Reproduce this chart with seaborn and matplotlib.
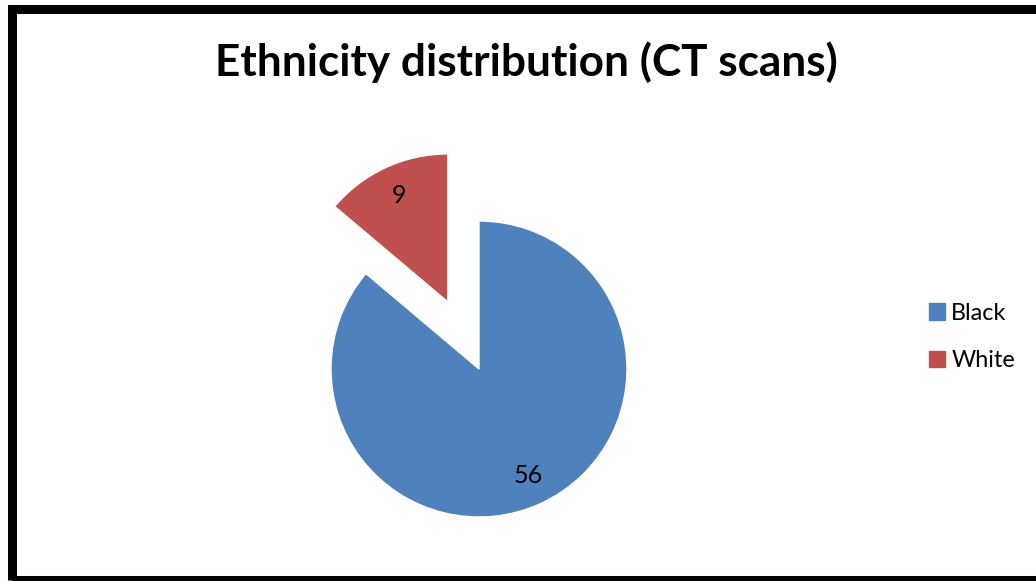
import matplotlib.pyplot as plt
import matplotlib.patches as mpatches
import seaborn as sns

# Data
groups = ["Black", "White"]
counts = [56, 9]
colors = ["#4F81BD", "#C0504D"]
explode = [0, 0.5]

sns.set_theme(style="white")
plt.rcParams['font.family'] = ['Lato', 'DejaVu Sans']
plt.rcParams['text.color'] = 'black'

W, H = 1036, 581
fig = plt.figure(figsize=(W / 100, H / 100), dpi=100)
ax = fig.add_axes([0, 0, 1, 1])

wedges, texts = ax.pie(counts, colors=colors, explode=explode, startangle=90,
                       counterclock=False, labels=[str(c) for c in counts],
                       labeldistance=0.79,
                       textprops={'fontsize': 18, 'color': 'black',
                                  'ha': 'center', 'va': 'center'})

# pie centre at pixel (479, 369), radius 148 px
r = 148
cx, cy = 479, H - 369
ax.set_xlim(-cx / r, (W - cx) / r)
ax.set_ylim(-cy / r, (H - cy) / r)
ax.set_aspect('equal')
ax.axis('off')

fig.text(526 / W, 1 - 62 / H, "Ethnicity distribution (CT scans)",
         fontsize=31.8, fontweight='bold', ha='center', va='center', color='black')

handles = [mpatches.Patch(color=c, label=g) for c, g in zip(colors, groups)]
fig.legend(handles=handles, loc='center left', bbox_to_anchor=(908 / W, 1 - 337 / H),
           frameon=False, fontsize=16.8, handlelength=0.7, handleheight=0.7,
           handletextpad=0.25, labelspacing=1.15, labelcolor='black')

# outer border
fig.patches.append(mpatches.Rectangle((11.5 / W, 1 / H), 1.2, 571.5 / H,
                                      transform=fig.transFigure, fill=False,
                                      edgecolor='black', linewidth=6.5, clip_on=False))

fig.savefig("out.png", dpi=100)
